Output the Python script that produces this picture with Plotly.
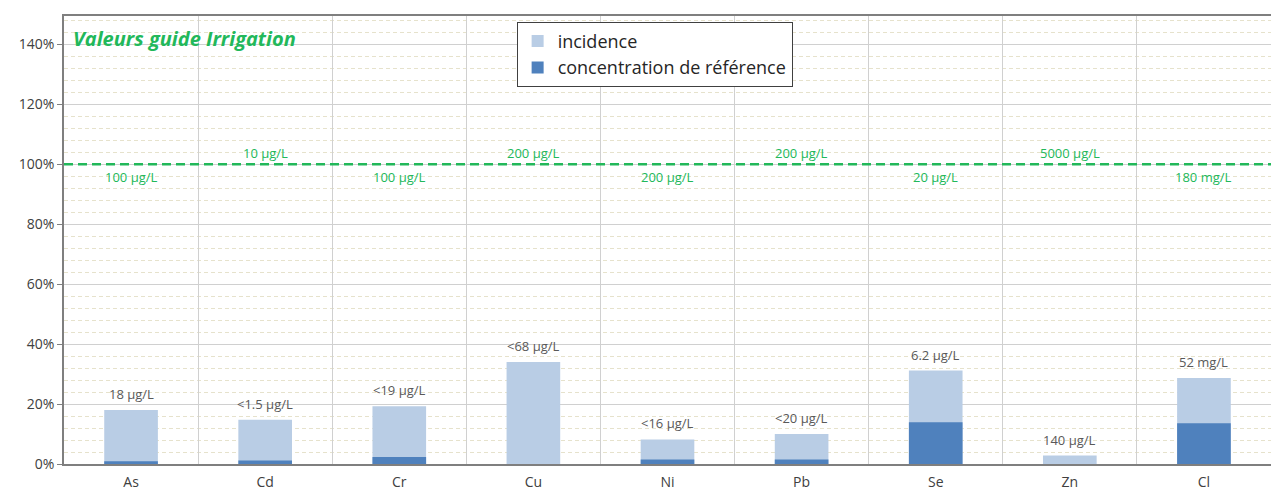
import plotly.graph_objects as go

categories = ["As", "Cd", "Cr", "Cu", "Ni", "Pb", "Se", "Zn", "Cl"]
incidence = [0.18, 0.148, 0.193, 0.34, 0.082, 0.10, 0.312, 0.028, 0.287]
concentration = [0.009, 0.012, 0.023, 0.0, 0.015, 0.015, 0.139, 0.0, 0.136]
value_labels = ["18 µg/L", "<1.5 µg/L", "<19 µg/L", "<68 µg/L", "<16 µg/L",
                "<20 µg/L", "6.2 µg/L", "140 µg/L", "52 mg/L"]
guide_labels = ["100 µg/L", "10 µg/L", "100 µg/L", "200 µg/L", "200 µg/L",
                "200 µg/L", "20 µg/L", "5000 µg/L", "180 mg/L"]
guide_level = 1.0
yticks = [0, 0.2, 0.4, 0.6, 0.8, 1.0, 1.2, 1.4]
ytick_text = ["0%", "20%", "40%", "60%", "80%", "100%", "120%", "140%"]

FONT = "Open Sans"
GREEN = "#22B85A"

fig = go.Figure()
fig.add_trace(go.Bar(x=categories, y=incidence, name="incidence",
                     marker=dict(color="#B9CDE5", line=dict(width=0)), width=0.4))
fig.add_trace(go.Bar(x=categories, y=concentration, name="concentration de référence",
                     marker=dict(color="#4F81BD", line=dict(width=0)), width=0.4))

# guide line at 100%
fig.add_hline(y=guide_level, line=dict(color=GREEN, width=2.5, dash="9px,5px"), layer="above")

annotations = []
for i, (c, v, lab) in enumerate(zip(categories, incidence, value_labels)):
    annotations.append(dict(x=c, y=v, text=lab, showarrow=False, yanchor="bottom",
                            yshift=5, font=dict(family=FONT, size=13, color="#595959")))
for i, (c, lab) in enumerate(zip(categories, guide_labels)):
    above = (i % 2 == 1)
    annotations.append(dict(x=c, y=guide_level, text=lab, showarrow=False,
                            yanchor="middle", yshift=(11 if above else -13),
                            font=dict(family=FONT, size=13, color=GREEN)))
annotations.append(dict(xref="paper", yref="paper", x=0.006, y=0.985, xanchor="left",
                        yanchor="top", showarrow=False,
                        text="<b><i>Valeurs guide Irrigation</i></b>",
                        font=dict(family=FONT, size=20, color=GREEN)))

fig.update_layout(
    width=1271, height=491,
    margin=dict(l=64, r=0, t=16, b=27, autoexpand=False),
    paper_bgcolor="white", plot_bgcolor="white",
    barmode="overlay",
    font=dict(family=FONT, size=12, color="#404040"),
    annotations=annotations,
    legend=dict(x=0.375, y=0.987, xanchor="left", yanchor="top",
                bgcolor="white", bordercolor="#404040", borderwidth=1,
                font=dict(family=FONT, size=18, color="#262626"),
                itemsizing="constant", tracegroupgap=0),
    showlegend=True,
)
fig.update_xaxes(type="category", tickson="boundaries", showgrid=True,
                 gridcolor="#D0D0D0", gridwidth=1, ticks="", showline=True,
                 linecolor="#7F7F7F", linewidth=1.5, mirror=True,
                 tickfont=dict(family=FONT, size=14, color="#404040"),
                 ticklabelstandoff=4,
                 range=[-0.5, len(categories) - 0.5])
fig.update_yaxes(range=[0, 1.495], tickvals=yticks, ticktext=ytick_text,
                 showgrid=True, gridcolor="#D0D0D0", gridwidth=1,
                 ticks="outside", ticklen=5, tickcolor="#7F7F7F",
                 showline=True, linecolor="#7F7F7F", linewidth=1.5, mirror=False,
                 zeroline=False,
                 tickfont=dict(family=FONT, size=14, color="#404040"),
                 minor=dict(dtick=0.04, tick0=0, showgrid=True, gridcolor="#E6E2CC",
                            griddash="4px,3px", gridwidth=1))

fig.write_html("out.html", config={"displayModeBar": False},
               post_script="document.body.style.margin='0';")
